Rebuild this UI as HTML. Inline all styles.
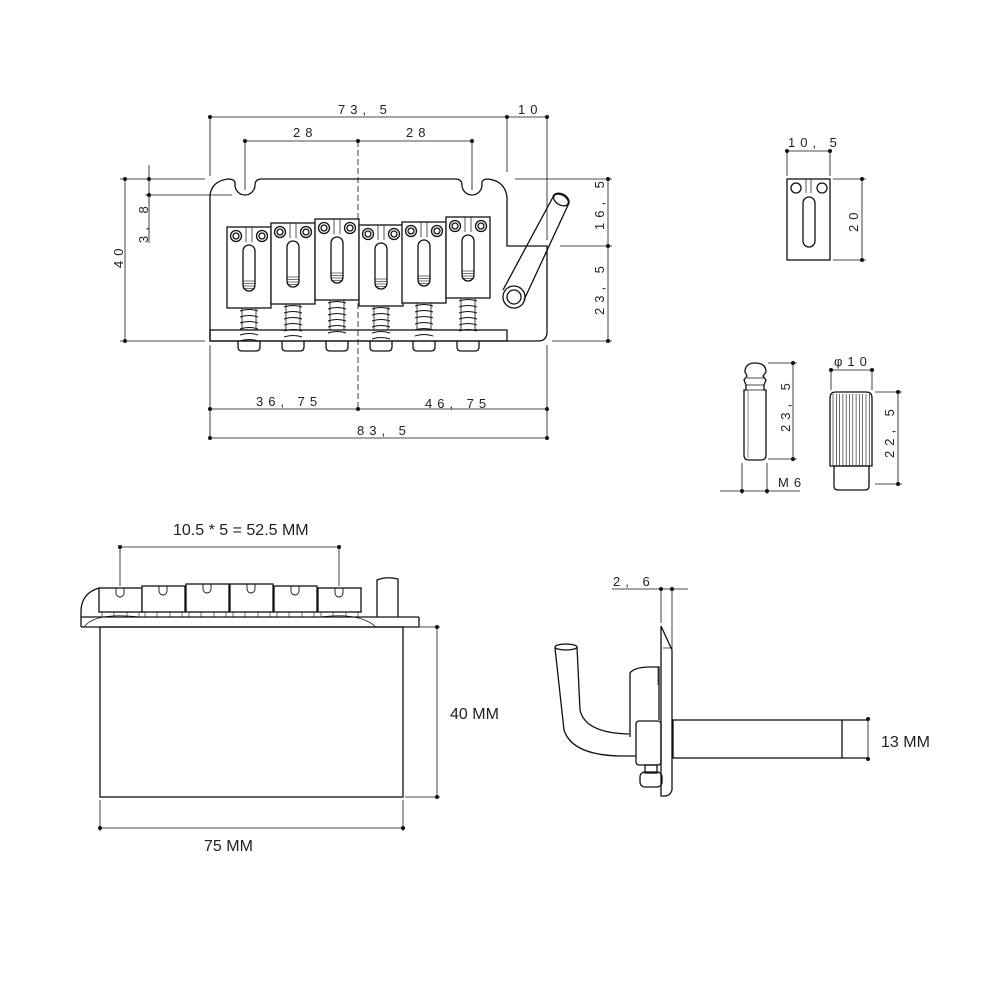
<!DOCTYPE html>
<html><head><meta charset="utf-8"><style>
html,body{margin:0;padding:0;background:#fff}
svg{display:block}
text{font-family:"Liberation Sans",sans-serif;fill:#222;stroke:none}
.d{font-size:13px;letter-spacing:5px}
.m{font-size:16px}
</style></head><body>
<svg id="s" width="1000" height="1000" viewBox="0 0 1000 1000" xmlns="http://www.w3.org/2000/svg" fill="none" stroke="#111" stroke-width="1.3">
<g stroke-width="0.8">
<line x1="210" y1="117" x2="547" y2="117"/><line x1="210" y1="117" x2="210" y2="176"/><line x1="507" y1="117" x2="507" y2="172"/><line x1="547" y1="117" x2="547" y2="240"/>
<line x1="245" y1="141" x2="472" y2="141"/><line x1="245" y1="141" x2="245" y2="190"/><line x1="472" y1="141" x2="472" y2="190"/>
<line x1="358" y1="141" x2="358" y2="410" stroke-dasharray="6,3"/>
<line x1="125" y1="179" x2="125" y2="341"/><line x1="120" y1="179" x2="205" y2="179"/><line x1="120" y1="341" x2="205" y2="341"/>
<line x1="149" y1="165" x2="149" y2="243"/><line x1="145" y1="195" x2="232" y2="195"/>
<line x1="608" y1="179" x2="608" y2="341"/><line x1="515" y1="179" x2="612" y2="179"/><line x1="560" y1="246" x2="612" y2="246"/><line x1="552" y1="341" x2="612" y2="341"/>
<line x1="210" y1="345" x2="210" y2="438"/><line x1="547" y1="345" x2="547" y2="438"/>
<line x1="210" y1="409" x2="547" y2="409"/><line x1="210" y1="438" x2="547" y2="438"/>
</g>
<g fill="#111" stroke="none">
<circle cx="210" cy="117" r="2"/><circle cx="507" cy="117" r="2"/><circle cx="547" cy="117" r="2"/>
<circle cx="245" cy="141" r="2"/><circle cx="358" cy="141" r="2"/><circle cx="472" cy="141" r="2"/>
<circle cx="125" cy="179" r="2"/><circle cx="125" cy="341" r="2"/><circle cx="149" cy="179" r="2"/><circle cx="149" cy="195" r="2"/>
<circle cx="608" cy="179" r="2"/><circle cx="608" cy="246" r="2"/><circle cx="608" cy="341" r="2"/>
<circle cx="210" cy="409" r="2"/><circle cx="358" cy="409" r="2"/><circle cx="547" cy="409" r="2"/>
<circle cx="210" cy="438" r="2"/><circle cx="547" cy="438" r="2"/>
</g>
<text class="d" x="338" y="114">73, 5</text><text class="d" x="518" y="114">10</text>
<text class="d" x="293" y="137">28</text><text class="d" x="406" y="137">28</text>
<text class="d" x="256" y="406">36, 75</text><text class="d" x="425" y="408">46, 75</text><text class="d" x="357" y="435">83, 5</text>
<text class="d" transform="translate(123,268) rotate(-90)">40</text>
<text class="d" transform="translate(148,243) rotate(-90)">3, 8</text>
<text class="d" transform="translate(604,230) rotate(-90)">16, 5</text>
<text class="d" transform="translate(604,315) rotate(-90)">23, 5</text>
<path d="M210,341 L210,195 Q212,181 228,179 Q236,179 235,185 A10,10 0 0 0 255,185 Q255,179 262,179 L455,179 Q462,179 462,185 A10,10 0 0 0 482,185 Q481,179 488,179 Q505,181 507,197 L507,246 L547,246 L547,332 Q547,341 538,341 Z"/>
<rect x="210" y="330" width="297" height="11"/>
<g id="sd"></g>
<path d="M503,290 L553,197 A7,5 30 0 1 569,203 L524,300"/>
<ellipse cx="561" cy="200" rx="8" ry="5" transform="rotate(30 561 200)"/>
<circle cx="514" cy="297" r="11"/><circle cx="514" cy="297" r="7"/>
<rect x="787" y="179" width="43" height="81"/>
<circle cx="796" cy="188" r="5"/><circle cx="822" cy="188" r="5"/>
<line x1="806" y1="179" x2="806" y2="193" stroke-width="0.7"/><line x1="811" y1="179" x2="811" y2="193" stroke-width="0.7"/>
<rect x="803" y="197" width="12" height="50" rx="6"/>
<g stroke-width="0.8"><line x1="787" y1="151" x2="830" y2="151"/><line x1="787" y1="151" x2="787" y2="176"/><line x1="830" y1="151" x2="830" y2="176"/>
<line x1="862" y1="179" x2="862" y2="260"/><line x1="833" y1="179" x2="866" y2="179"/><line x1="833" y1="260" x2="866" y2="260"/></g>
<g fill="#111" stroke="none"><circle cx="787" cy="151" r="2"/><circle cx="830" cy="151" r="2"/><circle cx="862" cy="179" r="2"/><circle cx="862" cy="260" r="2"/></g>
<text class="d" x="788" y="147">10, 5</text>
<text class="d" transform="translate(858,232) rotate(-90)">20</text>
<path d="M745,372 Q745,363 755,363 Q766,363 766,372 L763,376 L766,380 L764,385 L764,390 L766,390 L766,455 Q766,460 761,460 L749,460 Q744,460 744,455 L744,390 L746,390 L746,385 L744,380 L747,376 Z"/>
<line x1="746" y1="385" x2="764" y2="385" stroke-width="0.7"/><line x1="744" y1="390" x2="766" y2="390" stroke-width="0.7"/><line x1="747" y1="378" x2="764" y2="378" stroke-width="0.7"/>
<line x1="748" y1="390" x2="748" y2="458" stroke-width="0.5"/>
<g stroke-width="0.8"><line x1="793" y1="363" x2="793" y2="459"/><line x1="768" y1="363" x2="797" y2="363"/><line x1="768" y1="459" x2="797" y2="459"/>
<line x1="720" y1="491" x2="800" y2="491"/><line x1="742" y1="463" x2="742" y2="494"/><line x1="767" y1="463" x2="767" y2="494"/></g>
<g fill="#111" stroke="none"><circle cx="793" cy="363" r="2"/><circle cx="793" cy="459" r="2"/><circle cx="742" cy="491" r="2"/><circle cx="767" cy="491" r="2"/></g>
<text class="d" transform="translate(790,432) rotate(-90)">23, 5</text>
<text class="d" x="778" y="487">M6</text>
<path d="M830,398 Q830,392 836,392 L866,392 Q872,392 872,398 L872,466 L830,466 Z"/>
<g id="kn" stroke-width="0.6"></g>
<path d="M834,466 L869,466 L869,486 Q869,490 865,490 L838,490 Q834,490 834,486 Z"/>
<g stroke-width="0.8"><line x1="831" y1="370" x2="872" y2="370"/><line x1="831" y1="370" x2="831" y2="390"/><line x1="872" y1="370" x2="872" y2="390"/>
<line x1="898" y1="392" x2="898" y2="484"/><line x1="875" y1="392" x2="902" y2="392"/><line x1="875" y1="484" x2="902" y2="484"/></g>
<g fill="#111" stroke="none"><circle cx="831" cy="370" r="2"/><circle cx="872" cy="370" r="2"/><circle cx="898" cy="392" r="2"/><circle cx="898" cy="484" r="2"/></g>
<text class="d" x="834" y="366">φ10</text>
<text class="d" transform="translate(894,458) rotate(-90)">22, 5</text>
<g stroke-width="0.8"><line x1="120" y1="547" x2="339" y2="547"/><line x1="120" y1="547" x2="120" y2="586"/><line x1="339" y1="547" x2="339" y2="586"/>
<line x1="437" y1="627" x2="437" y2="797"/><line x1="405" y1="627" x2="440" y2="627"/><line x1="405" y1="797" x2="440" y2="797"/>
<line x1="100" y1="828" x2="403" y2="828"/><line x1="100" y1="800" x2="100" y2="831"/><line x1="403" y1="800" x2="403" y2="831"/></g>
<g fill="#111" stroke="none"><circle cx="120" cy="547" r="2"/><circle cx="339" cy="547" r="2"/><circle cx="437" cy="627" r="2"/><circle cx="437" cy="797" r="2"/><circle cx="100" cy="828" r="2"/><circle cx="403" cy="828" r="2"/></g>
<text class="m" x="173" y="535">10.5 * 5 = 52.5 MM</text>
<text class="m" x="450" y="719">40 MM</text>
<text class="m" x="204" y="851">75 MM</text>
<rect x="100" y="627" width="303" height="170"/>
<path d="M81,627 L81,610 Q82,593 99,588"/>
<line x1="81" y1="617" x2="419" y2="617"/><line x1="81" y1="627" x2="419" y2="627"/><line x1="419" y1="617" x2="419" y2="627"/>
<path d="M84,627 Q95,612 140,617 M320,617 Q360,612 376,627" stroke-width="0.7"/>
<path d="M377,617 L377,580 Q387,576 398,579 L398,617"/>
<g id="fs"></g>
<g stroke-width="0.8"><line x1="612" y1="589" x2="688" y2="589"/><line x1="661" y1="589" x2="661" y2="623"/><line x1="672" y1="589" x2="672" y2="655"/>
<line x1="868" y1="719" x2="868" y2="759"/></g>
<g fill="#111" stroke="none"><circle cx="661" cy="589" r="2"/><circle cx="672" cy="589" r="2"/><circle cx="868" cy="719" r="2"/><circle cx="868" cy="759" r="2"/></g>
<text class="d" x="613" y="586">2, 6</text>
<text class="m" x="881" y="747">13 MM</text>
<path d="M661,626 L672,650 L672,790 Q670,797 662,796 L661,796 Z"/>
<line x1="663" y1="648" x2="672" y2="648" stroke-width="0.7"/>
<rect x="673" y="720" width="169" height="38"/>
<path d="M842,720 L868,720 M842,758 L868,758"/>
<path d="M630,737 L630,673 Q634,667 651,667 L659,667 L659,720"/>
<rect x="636" y="721" width="25" height="44" rx="3"/>
<path d="M555,648 L564,730 Q572,755 620,756 L636,756"/>
<path d="M577,647 L580,710 Q585,733 629,734"/>
<ellipse cx="566" cy="647" rx="11" ry="3"/>
<rect x="640" y="772" width="22" height="15" rx="5"/>
<rect x="645" y="765" width="12" height="8"/>
<line x1="658" y1="667" x2="658" y2="685" stroke-width="0.7"/>
</svg>
<script>
var N="http://www.w3.org/2000/svg";
function el(p,t,a){var e=document.createElementNS(N,t);for(var k in a)e.setAttribute(k,a[k]);p.appendChild(e);return e;}
var sd=document.getElementById('sd');
var xs=[227,271,315,359,402,446],ys=[227,223,219,225,222,217];
for(var i=0;i<6;i++){var x=xs[i],y=ys[i],cx=x+22;
 for(var j=0;j<6;j++)el(sd,'path',{d:'M'+(cx-9)+','+(y+84+j*6)+' Q'+cx+','+(y+81+j*6)+' '+(cx+9)+','+(y+84+j*6),'stroke-width':'1'});
 el(sd,'line',{x1:cx-7,y1:y+81,x2:cx-7,y2:330,'stroke-width':'0.8'});el(sd,'line',{x1:cx+7,y1:y+81,x2:cx+7,y2:330,'stroke-width':'0.8'});
 el(sd,'rect',{x:x,y:y,width:44,height:81,fill:'#fff'});
 el(sd,'circle',{cx:x+9,cy:y+9,r:5.5});el(sd,'circle',{cx:x+9,cy:y+9,r:3});
 el(sd,'circle',{cx:x+35,cy:y+9,r:5.5});el(sd,'circle',{cx:x+35,cy:y+9,r:3});
 el(sd,'line',{x1:cx-3,y1:y,x2:cx-3,y2:y+15,'stroke-width':'0.7'});el(sd,'line',{x1:cx+3,y1:y,x2:cx+3,y2:y+15,'stroke-width':'0.7'});
 el(sd,'rect',{x:cx-6,y:y+18,width:12,height:46,rx:6});
 for(var j=0;j<4;j++)el(sd,'line',{x1:cx-6,y1:y+54+j*2.5,x2:cx+6,y2:y+54+j*2.5,'stroke-width':'0.6'});
 el(sd,'path',{d:'M'+(cx-11)+',341 L'+(cx-11)+',347 Q'+(cx-11)+',351 '+(cx-7)+',351 L'+(cx+7)+',351 Q'+(cx+11)+',351 '+(cx+11)+',347 L'+(cx+11)+',341'});
}
var kn=document.getElementById('kn');
for(var k=0;k<12;k++){var xx=833+k*3.3;el(kn,'line',{x1:xx,y1:394,x2:xx,y2:466});}
var fs=document.getElementById('fs');
var fx=[99,142,186,230,274,318],ft=[588,586,584,584,586,588];
for(var i=0;i<6;i++){var x=fx[i],t=ft[i],c=x+21;
 el(fs,'rect',{x:x,y:t,width:43,height:612-t,fill:'#fff'});
 el(fs,'path',{d:'M'+(c-4)+','+t+' L'+(c-4)+','+(t+5)+' A4,4 0 0 0 '+(c+4)+','+(t+5)+' L'+(c+4)+','+t,'stroke-width':'0.9'});
 el(fs,'rect',{x:x+3,y:612,width:12,height:5,'stroke-width':'0.6'});el(fs,'rect',{x:x+28,y:612,width:12,height:5,'stroke-width':'0.6'});
}
</script>
</body></html>
